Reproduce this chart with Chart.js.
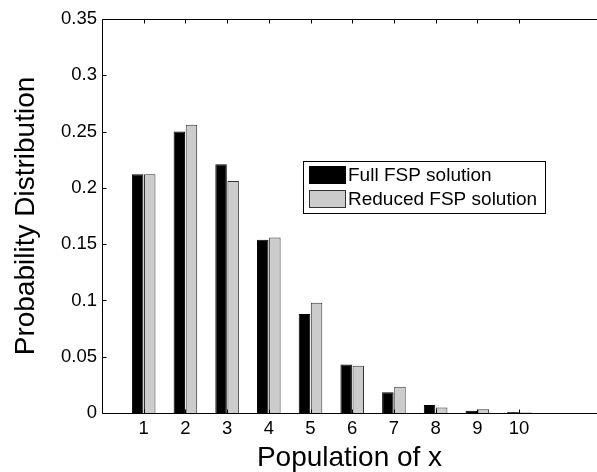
<!DOCTYPE html>
<html>
<head>
<meta charset="utf-8">
<script src="https://cdn.jsdelivr.net/npm/chart.js@4/dist/chart.umd.min.js"></script>
<style>
  html, body { margin: 0; padding: 0; background: #fff; overflow: hidden; }
  #wrap { width: 597px; height: 472px; position: relative; }
</style>
</head>
<body>
<div id="wrap"><canvas id="fsp"></canvas></div>
<script>
// population values and their probabilities
const population = [1, 2, 3, 4, 5, 6, 7, 8, 9, 10];
const fullFsp    = [0.212, 0.250, 0.221, 0.154, 0.088, 0.043, 0.0185, 0.007, 0.002, 0.0009];
const reducedFsp = [0.212, 0.256, 0.206, 0.156, 0.098, 0.042, 0.0233, 0.0048, 0.0033, 0.0007];

const yTicks      = [0, 0.05, 0.1, 0.15, 0.2, 0.25, 0.3, 0.35];
const yTickLabels = ['0', '0.05', '0.1', '0.15', '0.2', '0.25', '0.3', '0.35'];

const FONT = '"Liberation Sans", Arial, Helvetica, sans-serif';

const toPoints = vals => vals.map((v, i) => ({ x: population[i], y: v }));

// matlab style frame: inward ticks, top line, no right edge (cut off)
const framePlugin = {
  id: 'frame',
  afterDatasetsDraw(chart) {
    const { ctx, chartArea: a, scales: { x, y } } = chart;
    ctx.save();
    ctx.strokeStyle = '#000';
    ctx.lineWidth = 1;
    ctx.beginPath();
    const L = Math.round(a.left) + 0.5, T = Math.round(a.top) + 0.5, B = Math.round(a.bottom) + 0.5;
    ctx.moveTo(a.right, T); ctx.lineTo(L, T); ctx.lineTo(L, B); ctx.lineTo(a.right, B);
    yTicks.forEach(v => {
      const py = Math.round(y.getPixelForValue(v)) + 0.5;
      ctx.moveTo(L, py); ctx.lineTo(L + 4, py);
    });
    population.forEach(v => {
      const px = Math.round(x.getPixelForValue(v)) + 0.5;
      ctx.moveTo(px, T); ctx.lineTo(px, T + 4);
      ctx.moveTo(px, B); ctx.lineTo(px, B - 4);
    });
    ctx.stroke();
    ctx.restore();
  }
};

// boxed legend inside the plot
const boxLegend = {
  id: 'boxLegend',
  afterDraw(chart) {
    const { ctx } = chart;
    const left = 303, top = 161, w = 242, h = 52;
    ctx.save();
    ctx.fillStyle = '#fff';
    ctx.fillRect(left, top, w, h);
    ctx.strokeStyle = '#000';
    ctx.lineWidth = 1;
    ctx.strokeRect(left + 0.5, top + 0.5, w, h);
    ctx.font = '19px ' + FONT;
    ctx.textBaseline = 'middle';
    chart.data.datasets.forEach((ds, i) => {
      const cy = top + 14 + i * 24;
      ctx.fillStyle = ds.backgroundColor;
      ctx.fillRect(left + 6, cy - 9, 37, 18);
      ctx.strokeStyle = ds.borderColor;
      ctx.strokeRect(left + 6.5, cy - 8.5, 36, 17);
      ctx.fillStyle = '#000';
      ctx.fillText(ds.label, left + 45, cy + 1);
    });
    ctx.restore();
  }
};

new Chart(document.getElementById('fsp'), {
  type: 'bar',
  data: {
    datasets: [
      {
        label: 'Full FSP solution',
        data: toPoints(fullFsp),
        backgroundColor: '#000000',
        borderColor: '#000000',
        borderWidth: 1
      },
      {
        label: 'Reduced FSP solution',
        data: toPoints(reducedFsp),
        backgroundColor: '#cccccc',
        borderColor: '#333333',
        borderWidth: 1
      }
    ]
  },
  options: {
    responsive: true,
    maintainAspectRatio: false,
    animation: false,
    layout: { padding: { top: 19, right: 0, bottom: 0, left: 0 } },
    datasets: { bar: { categoryPercentage: 0.58, barPercentage: 0.95 } },
    plugins: { legend: { display: false }, tooltip: { enabled: false } },
    scales: {
      x: {
        type: 'linear',
        min: 0,
        max: 11.87,
        offset: false,
        grid: { display: false, drawTicks: false },
        border: { display: false },
        afterBuildTicks: s => { s.ticks = population.map(v => ({ value: v })); },
        afterFit: s => { s.height = 59; },
        ticks: {
          padding: 5,
          color: '#000',
          maxRotation: 0,
          font: { family: FONT, size: 18.5 },
          callback: v => String(v)
        },
        title: {
          display: true,
          text: 'Population of x',
          color: '#000',
          padding: 0,
          font: { family: FONT, size: 28, lineHeight: 1 }
        }
      },
      y: {
        min: 0,
        max: 0.35,
        grid: { display: false, drawTicks: false },
        border: { display: false },
        afterBuildTicks: s => { s.ticks = yTicks.map(v => ({ value: v })); },
        afterFit: s => { s.width = 102; },
        ticks: {
          padding: 5,
          color: '#000',
          font: { family: FONT, size: 18.5 },
          callback: (v, i) => yTickLabels[i]
        },
        title: {
          display: true,
          text: 'Probability Distribution',
          color: '#000',
          padding: { top: 12 },
          font: { family: FONT, size: 28, lineHeight: 1 }
        }
      }
    }
  },
  plugins: [framePlugin, boxLegend]
});
</script>
</body>
</html>
